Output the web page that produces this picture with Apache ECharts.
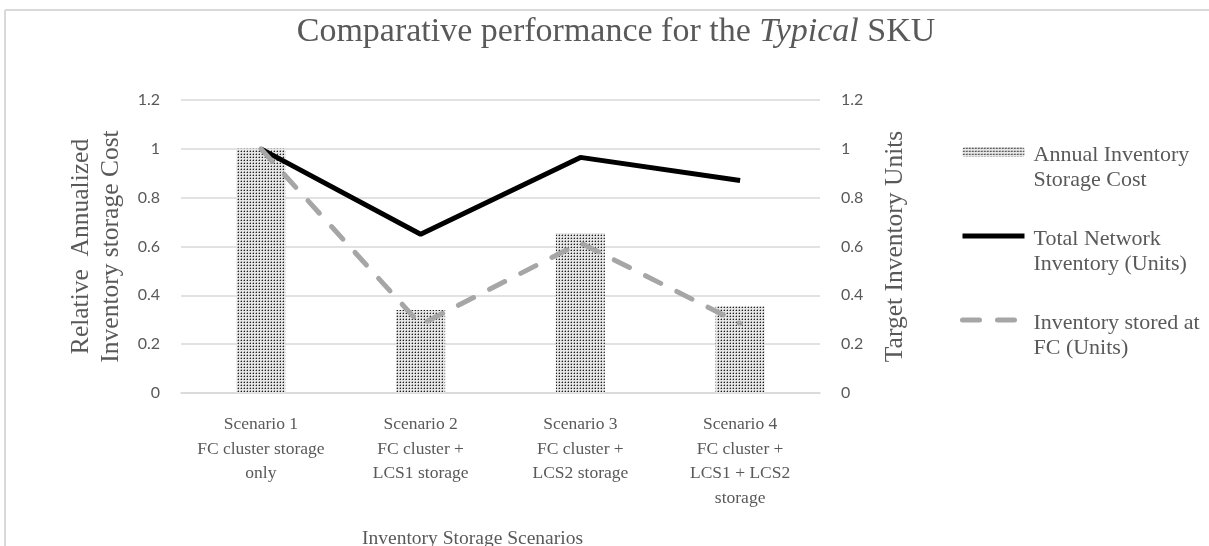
<!DOCTYPE html>
<html>
<head>
<meta charset="utf-8">
<script src="https://cdn.jsdelivr.net/npm/echarts@6/dist/echarts.min.js"></script>
<style>
  html, body { margin: 0; padding: 0; background: #fff; }
  #chart { width: 1209px; height: 546px; }
</style>
</head>
<body>
<div id="chart"></div>
<script>
// data
const scenarios = [
  'Scenario 1\nFC cluster storage\nonly',
  'Scenario 2\nFC cluster +\nLCS1 storage',
  'Scenario 3\nFC cluster +\nLCS2 storage',
  'Scenario 4\nFC cluster +\nLCS1 + LCS2\nstorage'
];
const storageCost = [1.0, 0.34, 0.655, 0.355];
const totalNetwork = [1.0, 0.65, 0.965, 0.87];
const storedAtFC = [1.0, 0.28, 0.615, 0.285];
const seriesNames = [
  'Annual Inventory\nStorage Cost',
  'Total Network\nInventory (Units)',
  'Inventory stored at\nFC (Units)'
];

const serif = '"Liberation Serif", "DejaVu Serif", serif';
const sans = 'Lato, "Liberation Sans", sans-serif';
const grey = '#595959';

// dotted fill like the excel pattern
const makeDots = () => {
  const c = document.createElement('canvas');
  c.width = 3; c.height = 3;
  const ctx = c.getContext('2d');
  ctx.fillStyle = '#e6e6e6';
  ctx.fillRect(0, 0, 3, 3);
  ctx.fillStyle = '#9c9c9c';
  ctx.fillRect(0, 1, 1, 1);
  ctx.fillRect(1, 0, 1, 1);
  ctx.fillStyle = '#1e1e1e';
  ctx.fillRect(1, 1, 1, 1);
  return c;
};

const chart = echarts.init(document.getElementById('chart'), null, { renderer: 'canvas' });

const valueAxis = (name, pos, gap) => ({
  type: 'value',
  position: pos,
  min: 0,
  max: 1.2,
  interval: 0.2,
  name: name,
  nameLocation: 'middle',
  nameRotate: 90,
  nameGap: gap,
  nameTextStyle: { fontFamily: serif, fontSize: 25.5, color: grey, lineHeight: 30 },
  axisLine: { show: false },
  axisTick: { show: false },
  axisLabel: { fontFamily: sans, fontSize: 16, color: grey, margin: 21 },
  splitLine: { show: pos === 'left', lineStyle: { color: '#d9d9d9', width: 1.5 } }
});

chart.setOption({
  animation: false,
  backgroundColor: '#fff',
  title: {
    text: 'Comparative performance for the {i|Typical} SKU',
    left: 611,
    textAlign: 'center',
    top: 10,
    textStyle: {
      fontFamily: serif, fontSize: 34, fontWeight: 'normal', color: grey,
      rich: { i: { fontFamily: serif, fontSize: 34, fontStyle: 'italic', color: grey } }
    }
  },
  graphic: [
    { type: 'line', shape: { x1: 5, y1: 10, x2: 1209, y2: 10 }, style: { stroke: '#d9d9d9', lineWidth: 2 } },
    { type: 'line', shape: { x1: 5, y1: 10, x2: 5, y2: 546 }, style: { stroke: '#d9d9d9', lineWidth: 2 } }
  ],
  legend: {
    orient: 'vertical',
    left: 955,
    top: 117,
    itemWidth: 62,
    itemHeight: 10,
    itemGap: 15,
    data: [
      { name: seriesNames[0] },
      { name: seriesNames[1], itemStyle: { opacity: 0 }, lineStyle: { width: 5, color: '#000' } },
      { name: seriesNames[2], itemStyle: { opacity: 0 }, lineStyle: { width: 5, color: '#a6a6a6', type: [17, 18], cap: 'round' } }
    ],
    formatter: (name) => {
      const parts = name.split('\n');
      return '{s| }\n' + parts.map(p => '{t|' + p + '}').join('\n');
    },
    textStyle: {
      color: grey,
      rich: {
        s: { lineHeight: 31, fontSize: 10 },
        t: { fontFamily: serif, fontSize: 22, color: grey, lineHeight: 25, padding: [0, 0, 0, 4] }
      }
    }
  },
  grid: { left: 181, right: 389, top: 100, bottom: 153, containLabel: false, outerBoundsMode: 'none' },
  xAxis: {
    type: 'category',
    data: scenarios,
    name: 'Inventory Storage Scenarios',
    nameLocation: 'middle',
    nameGap: 136,
    nameTextStyle: { fontFamily: serif, fontSize: 19.5, color: grey, padding: [0, 56, 0, 0] },
    axisLine: { lineStyle: { color: '#d9d9d9', width: 1.5 } },
    axisTick: { show: false },
    axisLabel: { interval: 0, fontFamily: serif, fontSize: 17.5, color: grey, lineHeight: 24.7, margin: 19 }
  },
  yAxis: [
    valueAxis('Relative  Annualized\nInventory storage Cost', 'left', 50),
    valueAxis('Target Inventory Units', 'right', 60)
  ],
  series: [
    {
      name: seriesNames[0],
      type: 'bar',
      data: storageCost,
      barWidth: 49,
      itemStyle: { color: { image: makeDots(), repeat: 'repeat' } }
    },
    {
      name: seriesNames[1],
      type: 'line',
      yAxisIndex: 1,
      data: totalNetwork,
      showSymbol: false,
      symbol: 'none',
      itemStyle: { color: '#000' },
      lineStyle: { color: '#000', width: 5 }
    },
    {
      name: seriesNames[2],
      type: 'line',
      yAxisIndex: 1,
      data: storedAtFC,
      showSymbol: false,
      symbol: 'none',
      itemStyle: { color: '#a6a6a6' },
      lineStyle: { color: '#a6a6a6', width: 5, type: [17, 18], cap: 'round' }
    }
  ]
});
</script>
</body>
</html>
